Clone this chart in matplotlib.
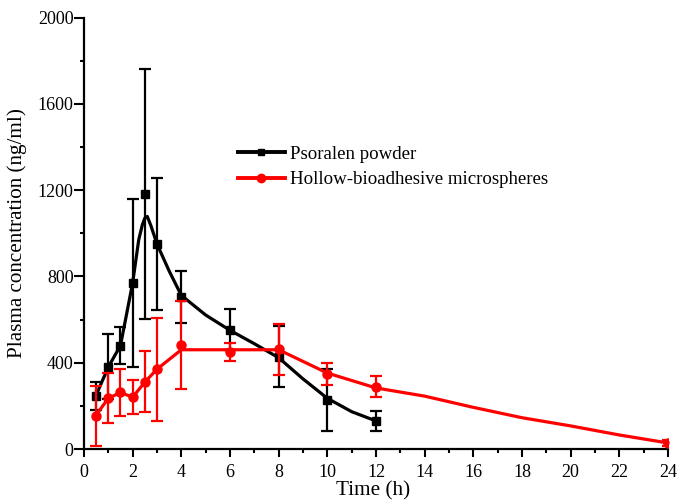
import matplotlib
matplotlib.use("Agg")
import matplotlib.pyplot as plt
from matplotlib.lines import Line2D
from matplotlib.ticker import MultipleLocator

plt.rcParams['font.family'] = ['Liberation Serif', 'DejaVu Serif']

# Psoralen powder (measured points, mean ± SD)
powder_t = [0.5, 1, 1.5, 2, 2.5, 3, 4, 6, 8, 10, 12]
powder_mean = [247, 381, 479, 771, 1182, 950, 706, 552, 428, 227, 131]
powder_sd = [65, 150, 85, 390, 580, 305, 120, 95, 142, 144, 47]
# Psoralen powder fitted curve
powder_curve_t = [0.5, 1, 1.5, 2, 2.25, 2.4, 2.5, 2.6, 2.75, 3, 3.5, 4, 5, 6, 7, 8, 9, 10, 11, 12]
powder_curve_v = [250, 380, 480, 770, 970, 1040, 1070, 1078, 1035, 950, 825, 712, 621, 550, 488, 423, 325, 235, 173, 130]

# Hollow-bioadhesive microspheres (measured points, mean ± SD)
micro_t = [0.5, 1, 1.5, 2, 2.5, 3, 4, 6, 8, 10, 12, 24]
micro_mean = [154, 235, 263, 240, 312, 369, 482, 450, 462, 348, 289, 28]
micro_sd = [140, 116, 110, 78, 140, 240, 203, 41, 118, 52, 50, 12]
# Hollow-bioadhesive microspheres curve
micro_curve_t = [0.5, 1, 1.5, 2, 2.5, 3, 4, 6, 8, 10, 12, 14, 16, 18, 20, 22, 24]
micro_curve_v = [158, 235, 262, 240, 310, 370, 460, 460, 460, 352, 283, 245, 193, 145, 107, 65, 28]

labels = ['Psoralen powder', 'Hollow-bioadhesive microspheres']
x_ticks = list(range(0, 25, 2))
y_ticks = [0, 400, 800, 1200, 1600, 2000]

fig = plt.figure(figsize=(6.79, 5.0), dpi=100)
ax = fig.add_axes([0.1237, 0.102, 0.8601, 0.863])

# black series
ax.plot(powder_curve_t, powder_curve_v, color='black', lw=2.3, zorder=3, clip_on=False)
ax.errorbar(powder_t, powder_mean, yerr=powder_sd, fmt='s', color='black', ms=5.5,
            ecolor='black', elinewidth=1.6, capsize=4.5, capthick=1.6, zorder=4)

# red series
ax.plot(micro_curve_t, micro_curve_v, color='#ff0000', lw=2.3, zorder=5, clip_on=False)
ax.errorbar(micro_t, micro_mean, yerr=micro_sd, fmt='o', color='#ff0000', ms=6.5,
            ecolor='#ff0000', elinewidth=1.6, capsize=4.5, capthick=1.6, zorder=6)

ax.set_xlim(0, 24)
ax.set_ylim(0, 2000)
ax.set_xticks(x_ticks)
ax.set_yticks(y_ticks)
ax.xaxis.set_minor_locator(MultipleLocator(1))
ax.yaxis.set_minor_locator(MultipleLocator(200))
ax.tick_params(axis='x', which='major', direction='out', length=5.5, width=1.5, labelsize=13, pad=5)
ax.tick_params(axis='y', which='major', direction='out', length=7, width=1.5, labelsize=13, pad=0.5)
ax.tick_params(which='minor', direction='out', length=3, width=1.5)
for s in ['top', 'right']:
    ax.spines[s].set_visible(False)
for s in ['left', 'bottom']:
    ax.spines[s].set_linewidth(1.6)

ax.set_xlabel('Time (h)', fontsize=15.3, labelpad=0)
ax.xaxis.set_label_coords(0.495, -0.074)
ax.set_ylabel('Plasma concentration (ng/ml)', fontsize=15.2)
ax.yaxis.set_label_coords(-0.097, 0.5)

handles = [Line2D([], [], color='black', lw=2.8, marker='s', ms=5),
           Line2D([], [], color='#ff0000', lw=2.8, marker='o', ms=6)]
ax.legend(handles, labels, loc='upper left', bbox_to_anchor=(0.25, 0.72), frameon=False,
          fontsize=13.6, handlelength=2.5, handletextpad=0.3, labelspacing=0.42, borderaxespad=0)

fig.savefig('out.png', dpi=100)
